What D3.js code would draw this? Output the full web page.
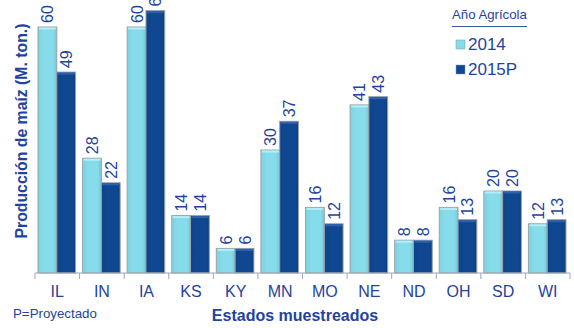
<!DOCTYPE html>
<html><head><meta charset="utf-8">
<script src="https://cdn.jsdelivr.net/npm/d3@7"></script>
<style>body{margin:0;background:#fff}svg{display:block}text{font-family:"Liberation Sans",Arial,sans-serif}</style>
</head><body>
<script>
const categories = ["IL","IN","IA","KS","KY","MN","MO","NE","ND","OH","SD","WI"];
const series = ["2014","2015P"];
const values2014 = [60,28,60,14,6,30,16,41,8,16,20,12];
const values2015P = [49,22,64,14,6,37,12,43,8,13,20,13];
const colors = ["#86dcea","#0f4790"];
const tops = ["#b4eef6","#2f62a8"];
const txt = "#1f43a0";

const W=574,H=328;
const svg=d3.select("body").append("svg").attr("width",W).attr("height",H);
const defs=svg.append("defs");
colors.forEach((c,i)=>{
  const g=defs.append("linearGradient").attr("id","g"+i).attr("x1",0).attr("x2",1).attr("y1",0).attr("y2",0);
  g.append("stop").attr("offset","0%").attr("stop-color",d3.color(c).darker(0.15));
  g.append("stop").attr("offset","30%").attr("stop-color",c);
  g.append("stop").attr("offset","80%").attr("stop-color",c);
  g.append("stop").attr("offset","100%").attr("stop-color",d3.color(c).darker(0.3));
});
const x=d3.scaleBand().domain(categories).range([35,570]).paddingInner(0).paddingOuter(0);
const xs=d3.scaleBand().domain(series).range([3,x.bandwidth()-4]);
const y=d3.scaleLinear().domain([0,60]).range([273,27]);

const data=categories.map((c,i)=>({c,v:[values2014[i],values2015P[i]]}));
const grp=svg.append("g").selectAll("g").data(data).join("g").attr("transform",d=>`translate(${x(d.c)},0)`);
series.forEach((s,si)=>{
  grp.append("rect").attr("x",xs(s)).attr("width",xs.bandwidth())
    .attr("y",d=>y(d.v[si])).attr("height",d=>y(0)-y(d.v[si]))
    .attr("fill",`url(#g${si})`).attr("stroke","#9aa3ad").attr("stroke-width",1);
  grp.append("rect").attr("x",xs(s)+1).attr("width",xs.bandwidth()-2)
    .attr("y",d=>y(d.v[si])+0.5).attr("height",2).attr("fill",tops[si]);
  grp.append("text").attr("transform",d=>`translate(${xs(s)+xs.bandwidth()/2+6},${y(d.v[si])-4}) rotate(-90)`)
    .attr("font-size",16).attr("fill",txt).text(d=>d.v[si]);
});

// axis
const ax=svg.append("g").attr("transform","translate(0,273)").call(
  d3.axisBottom(x).tickSize(0).tickPadding(13));
ax.select(".domain").attr("stroke","#a0a8b0").attr("d","M35,0H570");
ax.selectAll("text").attr("font-size",16).attr("fill",txt).attr("font-family","Liberation Sans, Arial, sans-serif");
const bounds=categories.map(c=>x(c)).concat([570]);
svg.append("g").selectAll("line").data(bounds).join("line")
  .attr("x1",d=>d).attr("x2",d=>d).attr("y1",273).attr("y2",279).attr("stroke","#a0a8b0");

svg.append("text").attr("transform","translate(27,131) rotate(-90)").attr("text-anchor","middle")
  .attr("font-size",15.8).attr("font-weight","bold").attr("fill",txt).text("Producción de maíz (M. ton.)");
svg.append("text").attr("x",295).attr("y",321).attr("text-anchor","middle")
  .attr("font-size",16).attr("font-weight","bold").attr("fill",txt).text("Estados muestreados");
svg.append("text").attr("x",13).attr("y",318).attr("font-size",13.3).attr("fill",txt).text("P=Proyectado");

// legend
const lg=svg.append("g");
lg.append("text").attr("x",452).attr("y",19).attr("font-size",13.2).attr("fill",txt).text("Año Agrícola");
lg.append("line").attr("x1",452).attr("x2",527).attr("y1",26.5).attr("y2",26.5).attr("stroke","#3a5aa8").attr("stroke-width",1);
series.forEach((s,i)=>{
  lg.append("rect").attr("x",456).attr("y",40+i*25).attr("width",9).attr("height",9).attr("fill",colors[i]).attr("stroke","#7a9ab0").attr("stroke-width",0.5);
  lg.append("text").attr("x",468).attr("y",50+i*25).attr("font-size",17).attr("fill",txt).text(s);
});
</script>
</body></html>
